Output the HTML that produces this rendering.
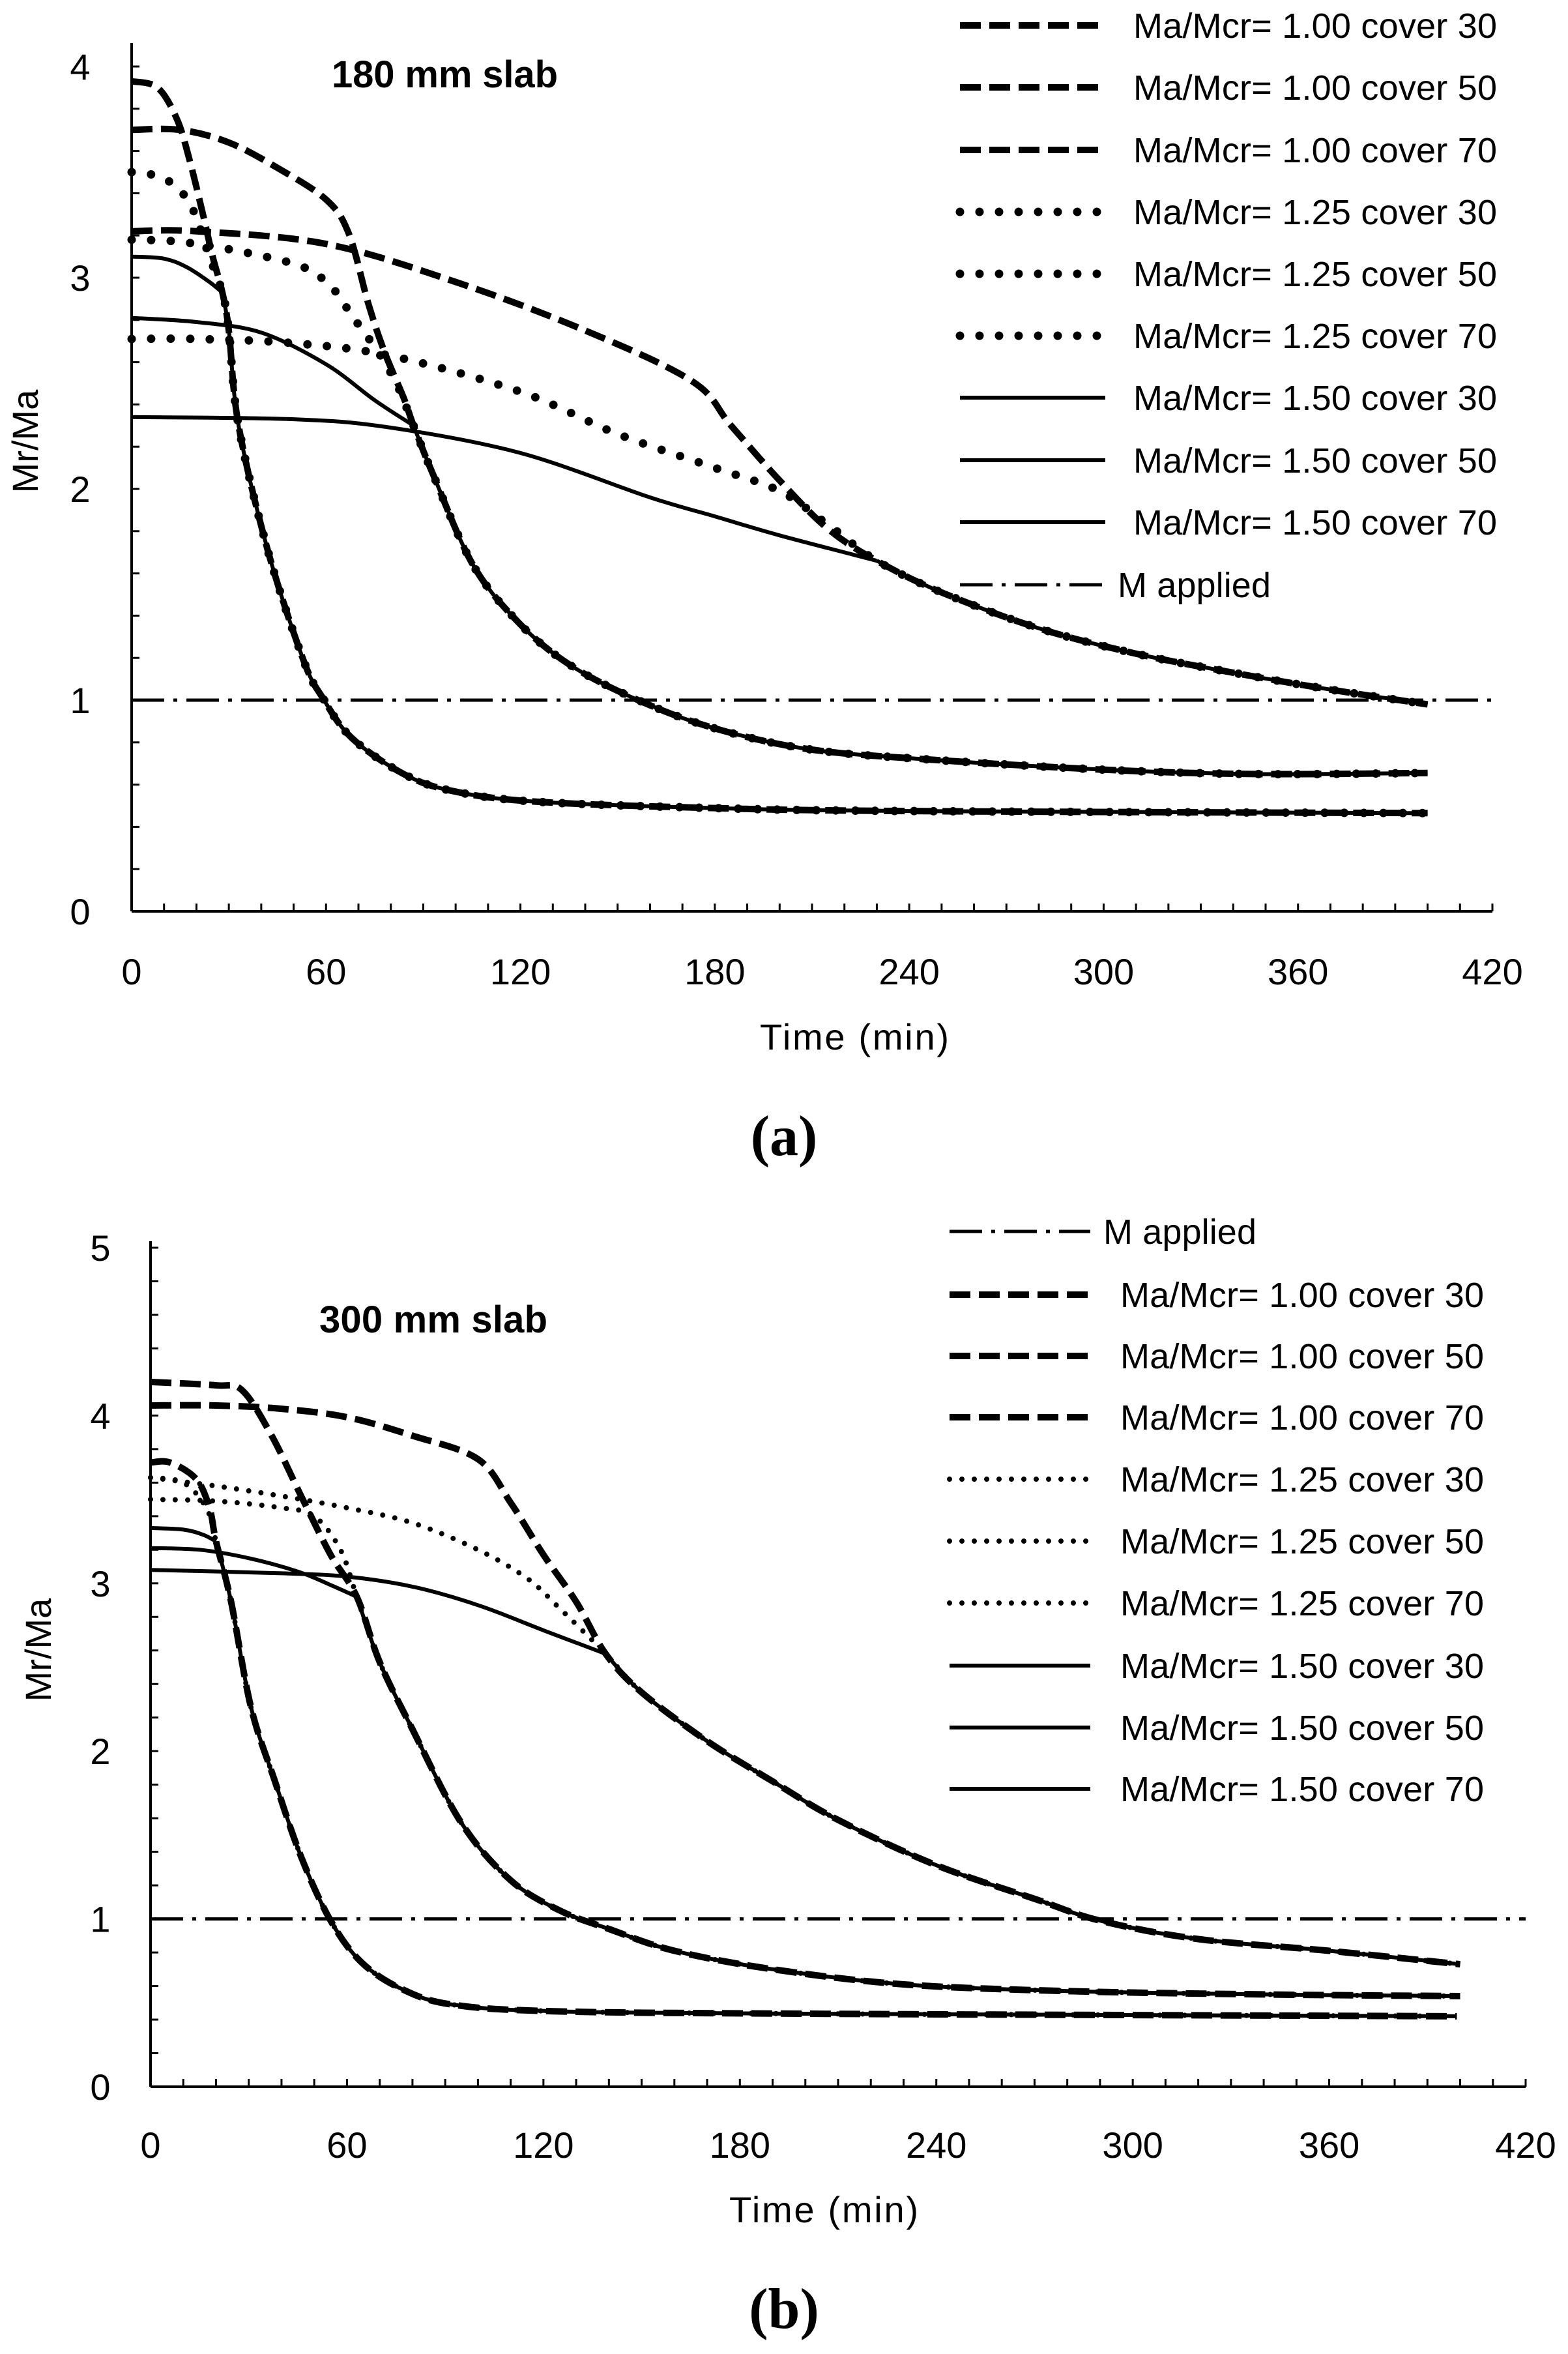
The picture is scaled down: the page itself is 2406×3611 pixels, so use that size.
<!DOCTYPE html>
<html><head><meta charset="utf-8"><style>
html,body{margin:0;padding:0;background:#fff}
svg{display:block}
text{font-family:"Liberation Sans",sans-serif;fill:#000}
</style></head><body>
<svg id="s" xmlns="http://www.w3.org/2000/svg" width="2406" height="3611" viewBox="0 0 2406 3611">
<rect width="2406" height="3611" fill="#fff"/>
<g id="ga"></g><g id="gb"></g>
<text x="509" y="134" font-size="58" font-weight="bold" textLength="347">180 mm slab</text>
<text x="490" y="2044" font-size="58" font-weight="bold" textLength="350">300 mm slab</text>
<text x="1311" y="1610" font-size="56" text-anchor="middle" textLength="290">Time (min)</text>
<text x="1264" y="3409" font-size="56" text-anchor="middle" textLength="290">Time (min)</text>
<text transform="translate(58,677) rotate(-90)" font-size="56" text-anchor="middle">Mr/Ma</text>
<text transform="translate(78,2531) rotate(-90)" font-size="56" text-anchor="middle">Mr/Ma</text>
<text x="1203" y="1772" font-size="88" font-weight="bold" text-anchor="middle" style="font-family:'Liberation Serif',serif">(a)</text>
<text x="1203" y="3571" font-size="88" font-weight="bold" text-anchor="middle" style="font-family:'Liberation Serif',serif">(b)</text>
</svg>
<script>
var NS="http://www.w3.org/2000/svg";
function el(g,n,a,t){var e=document.createElementNS(NS,n);for(var k in a)e.setAttribute(k,a[k]);if(t!==undefined)e.textContent=t;g.appendChild(e);return e;}
function cr(pts){var d="M"+pts[0][0].toFixed(1)+","+pts[0][1].toFixed(1);
for(var i=0;i<pts.length-1;i++){var p0=pts[i-1]||pts[i],p1=pts[i],p2=pts[i+1],p3=pts[i+2]||p2;
var c1=[p1[0]+(p2[0]-p0[0])/6,p1[1]+(p2[1]-p0[1])/6],c2=[p2[0]-(p3[0]-p1[0])/6,p2[1]-(p3[1]-p1[1])/6];
d+=" C"+c1[0].toFixed(1)+","+c1[1].toFixed(1)+" "+c2[0].toFixed(1)+","+c2[1].toFixed(1)+" "+p2[0].toFixed(1)+","+p2[1].toFixed(1);}return d;}
function chart(g,C){
 var X=function(t){return C.x0+(C.x1-C.x0)*t/420},Y=function(v){return C.y0-v*C.pu};
 el(g,"line",{x1:C.x0,y1:C.ytop,x2:C.x0,y2:C.y0,stroke:"#000","stroke-width":4});
 el(g,"line",{x1:C.x0,y1:C.y0,x2:C.x1,y2:C.y0,stroke:"#000","stroke-width":4});
 for(var t=0;t<=420;t+=10){el(g,"line",{x1:X(t),y1:C.y0,x2:X(t),y2:C.y0-12,stroke:"#000","stroke-width":3});}
 for(var t=0;t<=420;t+=60){el(g,"text",{x:X(t),y:C.xly,"font-size":56,"text-anchor":"middle"},""+t);}
 for(var v=0;v<=C.ymax+0.001;v+=0.2){el(g,"line",{x1:C.x0,y1:Y(v),x2:C.x0+12,y2:Y(v),stroke:"#000","stroke-width":3});}
 for(var v=0;v<=C.ymax;v++){el(g,"text",{x:C.ylx,y:Y(v)+20,"font-size":56,"text-anchor":"middle"},""+v);}
 function path(data,st){var pts=data.map(function(p){return [X(p[0]),Y(p[1])]});var a={d:cr(pts),fill:"none",stroke:"#000"};for(var k in st)a[k]=st[k];el(g,"path",a);}
 el(g,"line",{x1:C.x0,y1:Y(1),x2:C.x1,y2:Y(1),stroke:"#000","stroke-width":5,"stroke-dasharray":C.dd});
 C.series.forEach(function(s){path(s.d,C.styles[s.s]);});
 C.leg.forEach(function(L){var y=L[0];el(g,"line",{x1:C.lx1,y1:y,x2:C.lx2,y2:y,stroke:"#000","stroke-width":C.styles[L[1]]["stroke-width"],"stroke-dasharray":C.styles[L[1]]["stroke-dasharray"]||"none","stroke-linecap":C.styles[L[1]]["stroke-linecap"]||"butt"});
  var isM=L[2]=="M applied";el(g,"text",{x:isM?C.mtx:C.tx,y:y+19,"font-size":54,textLength:isM?235:558},L[2]);});
}
var D={stroke:"#000","stroke-width":10,"stroke-dasharray":"32 13"};
var S={"stroke-width":6};
var fa=[[28,2.93],[30,2.75],[33,2.3],[42,1.71],[53,1.19],[59,1.01],[68,0.82],[84,0.65],[99,0.57],[124,0.52],[177,0.49],[239,0.475],[400,0.465]];
var ma=[[87,2.30],[93,2.07],[105,1.65],[118,1.39],[133,1.19],[152,1.03],[177,0.88],[208,0.77],[245,0.72],[301,0.67],[347,0.65],[400,0.655]];
var sa=[[230,1.66],[250,1.51],[280,1.34],[310,1.22],[340,1.13],[370,1.05],[400,0.98]];
var sets=function(base,arr){return arr.concat(base.slice(1));};
var A={x0:202,x1:2290,y0:1398,pu:324,ytop:66,ymax:4,xly:1510,ylx:123,dd:"50 14 6 14",
 lx1:1473,lx2:1696,tx:1739,mtx:1715,
 styles:{d:D,o:{"stroke-width":13,"stroke-dasharray":"0 30","stroke-linecap":"round"},s:S},
 series:[
 {s:"s",d:fa},{s:"s",d:ma},{s:"s",d:sa},
 {s:"s",d:[[0,3.1],[10,3.09],[17,3.05],[24,2.98],[28,2.93]]},
 {s:"s",d:[[0,2.81],[20,2.79],[40,2.74],[60,2.59],[75,2.42],[87,2.3]]},
 {s:"s",d:[[0,2.34],[50,2.33],[80,2.29],[120,2.17],[160,1.96],[180,1.87],[200,1.78],[230,1.66]]},
 {s:"o",d:sets(fa,[[0,3.5],[10,3.47],[18,3.35],[24,3.1],[28,2.93]])},
 {s:"o",d:sets(ma,[[0,3.18],[15,3.17],[35,3.12],[53,3.05],[62,2.95],[68,2.82],[76,2.65],[82,2.49],[87,2.3]])},
 {s:"o",d:sets(sa,[[0,2.71],[20,2.71],[50,2.69],[80,2.63],[120,2.46],[150,2.26],[180,2.1],[200,1.99],[215,1.83],[230,1.66]])},
 {s:"d",d:sets(fa,[[0,3.93],[8,3.9],[14,3.75],[18,3.55],[22,3.3],[25,3.1],[28,2.93]])},
 {s:"d",d:sets(ma,[[0,3.7],[15,3.7],[30,3.64],[45,3.52],[60,3.37],[67,3.21],[73,2.88],[78,2.65],[84,2.43],[87,2.3]])},
 {s:"d",d:sets(sa,[[0,3.22],[20,3.22],[60,3.16],[100,2.98],[140,2.75],[173,2.51],[185,2.3],[200,2.04],[215,1.81],[230,1.66]])}
 ],
 leg:[[39,"d","Ma/Mcr= 1.00 cover 30"],[134,"d","Ma/Mcr= 1.00 cover 50"],[230,"d","Ma/Mcr= 1.00 cover 70"],[325,"o","Ma/Mcr= 1.25 cover 30"],[420,"o","Ma/Mcr= 1.25 cover 50"],[515,"o","Ma/Mcr= 1.25 cover 70"],[610,"s","Ma/Mcr= 1.50 cover 30"],[706,"s","Ma/Mcr= 1.50 cover 50"],[801,"s","Ma/Mcr= 1.50 cover 70"]]
};
A.styles.m={"stroke-width":5,"stroke-dasharray":A.dd};A.leg.push([897,"m","M applied"]);
chart(document.getElementById("ga"),A);
var fb=[[20,3.25],[24.6,2.89],[30.7,2.26],[38,1.82],[46,1.37],[55,0.99],[64.5,0.74],[77,0.58],[92,0.49],[123,0.45],[200,0.435],[399,0.42]];
var mb=[[63,2.92],[70,2.53],[80,2.13],[95,1.57],[110,1.23],[125,1.05],[140,0.94],[160,0.81],[190,0.7],[230,0.61],[280,0.57],[340,0.55],[400,0.54]];
var sb=[[139,2.58],[150,2.35],[170,2.06],[190,1.82],[210,1.59],[240,1.32],[270,1.12],[290,0.99],[320,0.88],[360,0.81],[400,0.73]];
var B={x0:231,x1:2341,y0:3201,pu:257.4,ytop:1904,ymax:5,xly:3310,ylx:154,dd:"50 14 6 14",
 lx1:1457,lx2:1673,tx:1719,mtx:1693,
 styles:{d:D,o:{"stroke-width":8,"stroke-dasharray":"0 19","stroke-linecap":"round"},s:S},
 series:[
 {s:"s",d:fb},{s:"s",d:mb},{s:"s",d:sb},
 {s:"s",d:[[0,3.33],[10,3.32],[16,3.29],[20,3.25]]},
 {s:"s",d:[[0,3.21],[15,3.2],[30,3.15],[45,3.07],[55,2.99],[63,2.92]]},
 {s:"s",d:[[0,3.08],[40,3.06],[60,3.04],[80,2.98],[100,2.87],[120,2.72],[139,2.58]]},
 {s:"o",d:sets(fb,[[0,3.63],[10,3.6],[17,3.45],[20,3.25]])},
 {s:"o",d:sets(mb,[[0,3.5],[20,3.49],[40,3.45],[50,3.4],[58,3.2],[63,2.92]])},
 {s:"o",d:sets(sb,[[0,3.63],[20,3.58],[40,3.52],[60,3.45],[80,3.36],[100,3.2],[115,3.03],[125,2.85],[139,2.58]])},
 {s:"d",d:sets(fb,[[0,3.72],[6,3.72],[14,3.62],[18,3.45],[20,3.25]])},
 {s:"d",d:sets(mb,[[0,4.2],[20,4.18],[28,4.15],[37,3.88],[46,3.52],[55,3.17],[63,2.92]])},
 {s:"d",d:sets(sb,[[0,4.06],[20,4.06],[40,4.04],[60,3.99],[80,3.88],[100,3.74],[110,3.48],[120,3.17],[130,2.89],[139,2.58]])}
 ],
 leg:[[1986,"d","Ma/Mcr= 1.00 cover 30"],[2080,"d","Ma/Mcr= 1.00 cover 50"],[2174,"d","Ma/Mcr= 1.00 cover 70"],[2269,"o","Ma/Mcr= 1.25 cover 30"],[2364,"o","Ma/Mcr= 1.25 cover 50"],[2459,"o","Ma/Mcr= 1.25 cover 70"],[2555,"s","Ma/Mcr= 1.50 cover 30"],[2650,"s","Ma/Mcr= 1.50 cover 50"],[2744,"s","Ma/Mcr= 1.50 cover 70"]]
};
B.styles.m={"stroke-width":5,"stroke-dasharray":B.dd};B.leg.unshift([1889,"m","M applied"]);
chart(document.getElementById("gb"),B);
</script>
</body></html>
